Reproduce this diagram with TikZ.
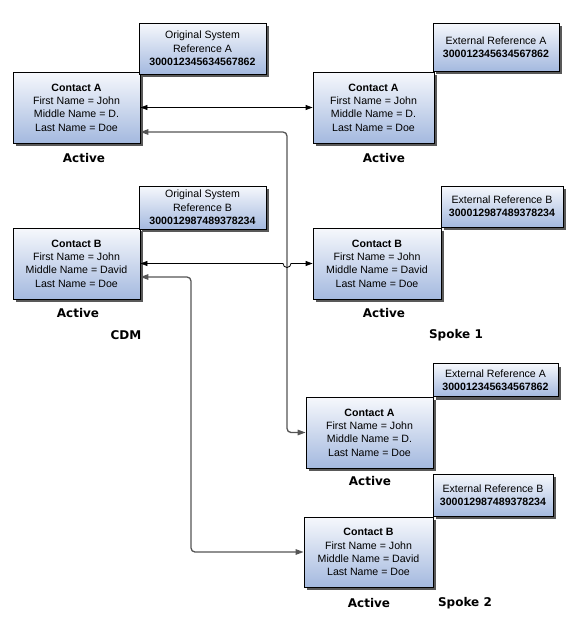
\documentclass[tikz,border=0pt]{standalone}
\usepackage{fontspec}
\setmainfont{Liberation Sans}
\newfontfamily\statefont{DejaVu Sans}
\usepackage{tikz}
\usetikzlibrary{arrows.meta,shadows}
\definecolor{boxtop}{HTML}{F6F8FC}
\definecolor{boxbottom}{HTML}{A4B9DF}
\definecolor{linkgray}{HTML}{555555}

\begin{document}
\begin{tikzpicture}[x=1pt,y=-1pt]
	\tikzstyle{record}=[draw=black,thick,rectangle,inner sep=0pt,align=center,
		top color=boxtop,bottom color=boxbottom,
		font=\fontsize{10.6}{13.3}\selectfont,
		drop shadow={shadow xshift=3pt,shadow yshift=-3pt,opacity=1,fill=black!65}]
	\tikzstyle{state}=[font=\statefont\bfseries\fontsize{12}{14}\selectfont]
	\tikzstyle{sync}=[thick,black,{Triangle[length=7pt,width=5pt]}-{Triangle[length=7pt,width=5pt]}]
	\tikzstyle{xref}=[line width=1.3pt,linkgray,rounded corners=4pt,{Triangle[length=8pt,width=5.5pt]}-{Triangle[length=8pt,width=5.5pt]}]

	\useasboundingbox (0,0) rectangle (576,624);

	% CDM
	\node[record,minimum width=127pt,minimum height=71pt] (cdmA) at (76.5,107.5)
		{\textbf{Contact A}\\First Name = John\\Middle Name = D.\\Last Name = Doe};
	\node[record,minimum width=127pt,minimum height=51pt] (cdmArefA) at (202.5,48.5)
		{Original System\\Reference A\\\textbf{300012345634567862}};
	\node[record,minimum width=127pt,minimum height=71pt] (cdmB) at (76.5,263.5)
		{\textbf{Contact B}\\First Name = John\\Middle Name = David\\Last Name = Doe};
	\node[record,minimum width=127pt,minimum height=43pt] (cdmBrefB) at (202.5,207.5)
		{Original System\\Reference B\\\textbf{300012987489378234}};
	\node[state] (cdmAstate) at (84,158) {Active};
	\node[state] (cdmBstate) at (78,313) {Active};
	\node[state] (cdmlabel) at (126,335) {CDM};

	% Spoke 1
	\node[record,minimum width=121pt,minimum height=71pt] (s1A) at (373.5,107.5)
		{\textbf{Contact A}\\First Name = John\\Middle Name = D.\\Last Name = Doe};
	\node[record,minimum width=126pt,minimum height=48pt] (s1refA) at (496,47)
		{External Reference A\\\textbf{300012345634567862}};
	\node[record,minimum width=128pt,minimum height=71pt] (s1B) at (377,263.5)
		{\textbf{Contact B}\\First Name = John\\Middle Name = David\\Last Name = Doe};
	\node[record,minimum width=122pt,minimum height=41pt] (s1refB) at (502,206.5)
		{External Reference B\\\textbf{300012987489378234}};
	\node[state] (s1Astate) at (384,158) {Active};
	\node[state] (s1Bstate) at (384,313) {Active};
	\node[state] (s1label) at (456,335) {Spoke 1};

	% Spoke 2
	\node[record,minimum width=127pt,minimum height=71pt] (s2A) at (369.5,432.5)
		{\textbf{Contact A}\\First Name = John\\Middle Name = D.\\Last Name = Doe};
	\node[record,minimum width=125pt,minimum height=33pt] (s2refA) at (495.5,380)
		{External Reference A\\\textbf{300012345634567862}};
	\node[record,minimum width=129pt,minimum height=70pt] (s2B) at (368.5,552)
		{\textbf{Contact B}\\First Name = John\\Middle Name = David\\Last Name = Doe};
	\node[record,minimum width=120pt,minimum height=42pt] (s2refB) at (493,495)
		{External Reference B\\\textbf{300012987489378234}};
	\node[state] (s2Astate) at (370,481) {Active};
	\node[state] (s2Bstate) at (369,603) {Active};
	\node[state] (s2label) at (465,603) {Spoke 2};

	% links
	\coordinate (busA) at (287,0);
	\coordinate (busB) at (191,0);

	\draw[xref] ([yshift=-24.5pt]cdmA.east) -- ([yshift=-24.5pt]cdmA.east -| busA) |- (s2A.west);
	\draw[xref] ([yshift=-13.5pt]cdmB.east) -- ([yshift=-13.5pt]cdmB.east -| busB) |- (s2B.west);
	\draw[sync] (cdmA.east) -- (s1A.west);
	\draw[sync] (cdmB.east) -- ([xshift=-4pt]busA |- cdmB.east)
		arc[start angle=180,end angle=360,radius=4pt] -- (s1B.west);
\end{tikzpicture}
\end{document}
